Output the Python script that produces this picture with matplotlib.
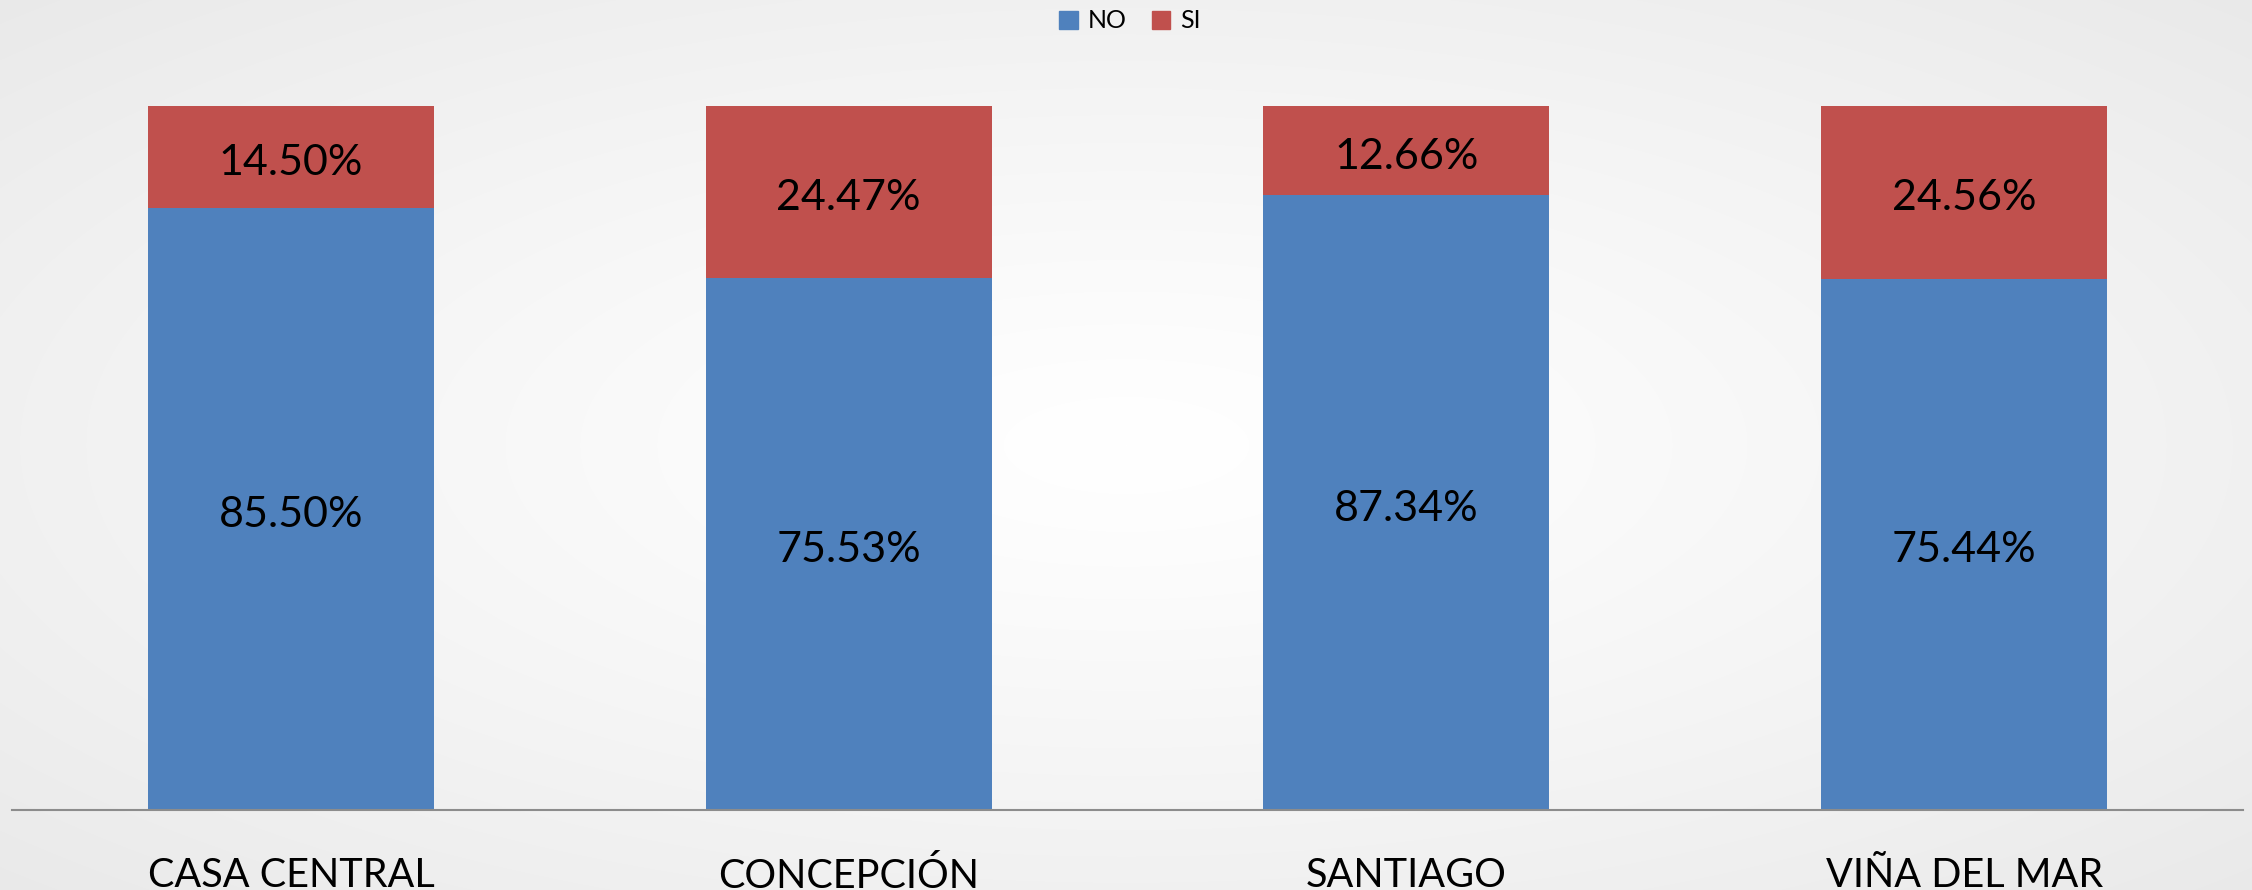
import numpy as np
import matplotlib
matplotlib.use("Agg")
import matplotlib.pyplot as plt
from matplotlib.patches import Patch
from matplotlib.transforms import offset_copy

categories = ["CASA CENTRAL", "CONCEPCIÓN", "SANTIAGO", "VIÑA DEL MAR"]
no_vals = [85.50, 75.53, 87.34, 75.44]
si_vals = [14.50, 24.47, 12.66, 24.56]

BLUE = "#4F81BD"
RED = "#C0504D"
FONT = "Lato"

W, H = 2252, 890
fig = plt.figure(figsize=(W / 100, H / 100), dpi=100)

# soft radial background
bg = fig.add_axes([0, 0, 1, 1], zorder=-10)
yy, xx = np.mgrid[0:H, 0:W]
r = np.sqrt(((xx - W / 2) / (W / 2)) ** 2 + ((yy - H / 2) / (H / 2)) ** 2) / np.sqrt(2)
shade = 1.0 - 0.085 * np.clip(r, 0, 1) ** 1.2
bg.imshow(np.dstack([shade] * 3), aspect="auto", extent=[0, 1, 0, 1])
bg.set_axis_off()

left, right = 12 / W, 2243 / W
bottom, top = 1 - 810 / H, 1 - 106 / H
ax = fig.add_axes([left, bottom, right - left, top - bottom])
ax.set_facecolor("none")

x = np.arange(len(categories))
width = 0.513
no = np.array(no_vals) / 100
si = np.array(si_vals) / 100
ax.bar(x, no, width, color=BLUE, label="NO")
ax.bar(x, si, width, bottom=no, color=RED, label="SI")

# value labels sit slightly below the geometric centre of each segment
label_tf = offset_copy(ax.transData, fig=fig, x=0, y=-4.3, units="points")
for xi, n, s in zip(x, no, si):
    ax.text(xi, n / 2, f"{n * 100:.2f}%", ha="center", va="center",
            fontsize=31, family=FONT, color="black", transform=label_tf)
    ax.text(xi, n + s / 2, f"{s * 100:.2f}%", ha="center", va="center",
            fontsize=31, family=FONT, color="black", transform=label_tf)

ax.set_xlim(-0.5, len(categories) - 0.5)
ax.set_ylim(0, 1)
for sp in ["top", "right", "left"]:
    ax.spines[sp].set_visible(False)
ax.spines["bottom"].set_color("#8c8c8c")
ax.spines["bottom"].set_linewidth(1.5)
ax.set_yticks([])
ax.set_xticks(x)
ax.set_xticklabels(categories, fontsize=28.5, family=FONT)
ax.tick_params(axis="x", length=0, pad=34)

handles = [Patch(color=BLUE, label="NO"), Patch(color=RED, label="SI")]
fig.legend(handles=handles, loc="center", bbox_to_anchor=(1130 / W, 1 - 21 / H),
           ncol=2, frameon=False, prop={"family": FONT, "size": 18},
           handlelength=0.75, handleheight=0.75, handletextpad=0.4, columnspacing=1.0)

fig.savefig("out.png", dpi=100)
